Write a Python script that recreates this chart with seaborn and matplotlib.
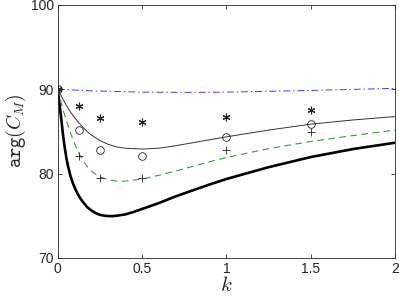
import matplotlib
matplotlib.use("Agg")
import matplotlib.pyplot as plt
import seaborn as sns

# curve samples
k_thick = [0, 0.01, 0.02, 0.03, 0.04, 0.05, 0.06, 0.075, 0.09, 0.105, 0.12, 0.135, 0.15,
           0.175, 0.2, 0.225, 0.25, 0.275, 0.3, 0.325, 0.35, 0.4, 0.45, 0.5,
           0.6, 0.7, 0.8, 0.9, 1.0, 1.25, 1.5, 1.75, 2.0]
y_thick = [90, 88.2, 86.5, 84.7, 83.2, 81.9, 80.9, 79.7, 78.8, 78.1, 77.5, 77.0, 76.6,
           76.0, 75.6, 75.3, 75.1, 75.0, 74.95, 74.95, 75.0, 75.15, 75.45, 75.8,
           76.5, 77.3, 78.0, 78.7, 79.35, 80.75, 81.95, 82.9, 83.65]

k_dash = [0, 0.0125, 0.025, 0.0375, 0.05, 0.075, 0.1, 0.125, 0.15, 0.175, 0.2, 0.25, 0.3,
          0.35, 0.4, 0.5, 0.6, 0.7, 0.8, 0.9, 1.0, 1.25, 1.5, 1.75, 2.0]
y_dash = [90, 89.0, 88.0, 87.1, 86.3, 84.8, 83.5, 82.4, 81.5, 80.8, 80.25, 79.6, 79.25,
          79.1, 79.1, 79.35, 79.8, 80.3, 80.85, 81.4, 81.9, 82.95, 83.8, 84.5, 85.15]

k_thin = [0, 0.0125, 0.025, 0.05, 0.075, 0.1, 0.125, 0.15, 0.175, 0.2, 0.25, 0.3, 0.35,
          0.4, 0.5, 0.6, 0.7, 0.8, 0.9, 1.0, 1.25, 1.5, 1.75, 2.0]
y_thin = [90, 89.5, 89.0, 88.1, 87.3, 86.6, 86.0, 85.45, 84.95, 84.55, 83.9, 83.45, 83.15,
          83.0, 82.9, 83.0, 83.3, 83.65, 84.0, 84.35, 85.15, 85.85, 86.35, 86.75]

k_dot = [0, 0.2, 0.5, 0.8, 1.0, 1.5, 2.0]
y_dot = [90, 89.8, 89.65, 89.62, 89.65, 89.85, 90.1]

# discrete markers
k_pts = [0, 0.125, 0.25, 0.5, 1.0, 1.5]
y_star = [90, 88.05, 86.6, 86.1, 86.7, 87.55]
y_circ = [90, 85.2, 82.8, 82.1, 84.35, 85.9]
y_plus = [90, 82.1, 79.45, 79.5, 82.8, 84.9]

xticks = [0, 0.5, 1, 1.5, 2]
xticklabels = ["0", "0.5", "1", "1.5", "2"]
yticks = [70, 80, 90, 100]

sns.set_style("ticks")
plt.rcParams["font.family"] = ["Liberation Sans", "DejaVu Sans"]
plt.rcParams["mathtext.fontset"] = "cm"

fig = plt.figure(figsize=(3.99, 3.03), dpi=100)
ax = fig.add_axes([0.145, 0.149, 0.845, 0.835])

sns.lineplot(x=k_thick, y=y_thick, ax=ax, color="black", lw=1.9, sort=False, estimator=None)
sns.lineplot(x=k_dash, y=y_dash, ax=ax, color="#3a9a3a", lw=0.8, sort=False, estimator=None,
             linestyle=(0, (6, 4)))
sns.lineplot(x=k_thin, y=y_thin, ax=ax, color="#333333", lw=0.7, sort=False, estimator=None)
sns.lineplot(x=k_dot, y=y_dot, ax=ax, color="#3a3aff", lw=0.7, sort=False, estimator=None,
             linestyle=(0, (7, 3, 1.5, 3)))

ax.plot(k_pts, y_circ, "o", ms=5.5, mfc="none", mec="#222222", mew=0.6)
ax.plot(k_pts, y_star, marker=(6, 2, 0), ls="none", ms=5.5, mec="#222222", mew=0.8)
ax.plot(k_pts, y_plus, "+", ms=6, mec="#222222", mew=0.6)

ax.set_xlim(0, 2)
ax.set_ylim(70, 100)
ax.set_xticks(xticks)
ax.set_xticklabels(xticklabels)
ax.set_yticks(yticks)
ax.tick_params(direction="in", top=True, right=True, length=3, width=0.6,
               labelsize=10, colors="#262626", pad=3)
for s in ax.spines.values():
    s.set_visible(True)
    s.set_linewidth(0.6)
    s.set_color("#262626")

ax.set_xlabel(r"$k$", fontsize=15, labelpad=0)
ax.set_ylabel(r"$\mathtt{arg}(C_M)$", fontsize=14, labelpad=2)

fig.savefig("out.png", dpi=100)
